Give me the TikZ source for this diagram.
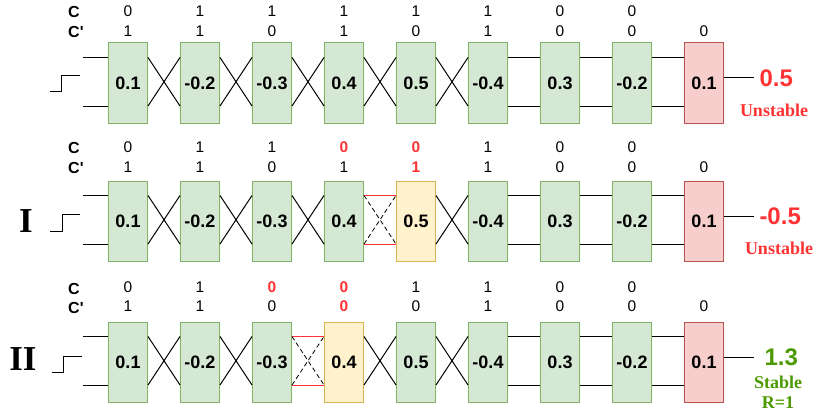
\documentclass[tikz,border=0pt]{standalone}
\usepackage{fontspec}
\setmainfont{Liberation Serif}
\setsansfont{Liberation Sans}
\usetikzlibrary{positioning}

\definecolor{okfill}{HTML}{D5E8D4}
\definecolor{okline}{HTML}{82B366}
\definecolor{swfill}{HTML}{FFF2CC}
\definecolor{swline}{HTML}{D6B656}
\definecolor{endfill}{HTML}{F8CECC}
\definecolor{endline}{HTML}{B85450}
\definecolor{badred}{HTML}{FF3333}
\definecolor{goodgreen}{HTML}{4D9900}

\newcommand\flipbit[1]{\textcolor{badred}{\bfseries #1}}

% wires between two neighbouring cells
\newcommand\xlink[2]{%
  \draw[wire] ([yshift=-15pt]#1.north east) -- ([yshift=17.5pt]#2.south west);
  \draw[wire] ([yshift=17.5pt]#1.south east) -- ([yshift=-15pt]#2.north west);}
\newcommand\hlink[2]{%
  \draw[wire] ([yshift=-15pt]#1.north east) -- ([yshift=-15pt]#2.north west);
  \draw[wire] ([yshift=17.5pt]#1.south east) -- ([yshift=17.5pt]#2.south west);}
\newcommand\cutlink[2]{%
  \draw[cutwire] ([yshift=-15pt]#1.north east) -- ([yshift=-15pt]#2.north west);
  \draw[cutwire] ([yshift=17.5pt]#1.south east) -- ([yshift=17.5pt]#2.south west);
  \draw[ghost] ([yshift=-15pt]#1.north east) -- ([yshift=17.5pt]#2.south west);
  \draw[ghost] ([yshift=17.5pt]#1.south east) -- ([yshift=-15pt]#2.north west);}

\tikzset{
  cell/.style={draw=#1line, fill=#1fill, line width=1pt, minimum width=39pt,
    minimum height=80pt, inner sep=0pt, font=\sffamily\bfseries\fontsize{18}{18}\selectfont},
  cell/.default=ok,
  bit/.style={font=\sffamily\fontsize{15.5}{15.5}\selectfont, inner sep=0pt},
  tag/.style={font=\sffamily\bfseries\fontsize{16}{16}\selectfont, inner sep=0pt, anchor=west},
  wire/.style={line width=1pt},
  cutwire/.style={line width=1pt, draw=badred},
  ghost/.style={line width=0.8pt, dash pattern=on 4.5pt off 3pt},
  score/.style={font=\sffamily\bfseries\fontsize{24}{24}\selectfont, inner sep=0pt, anchor=west},
  verdict/.style={font=\bfseries\fontsize{18}{20}\selectfont, inner sep=0pt, align=center},
  case/.style={font=\bfseries\fontsize{35}{35}\selectfont, inner sep=0pt},
}

\begin{document}
\begin{tikzpicture}[x=1pt, y=-1pt]
  \useasboundingbox (0,0) rectangle (817,412);

  % ---- row a: original chain
  \foreach \val/\kind [count=\i] in {0.1/ok,-0.2/ok,-0.3/ok,0.4/ok,0.5/ok,-0.4/ok,0.3/ok,-0.2/ok,0.1/end}
    \node[cell=\kind] (a\i) at ({128+72*(\i-1)},83) {\val};
  \foreach \up/\lo [count=\i] in {0/1,1/1,1/0,1/1,1/0,1/1,0/0,0/0} {
    \node[bit] (ua\i) at ([yshift=31pt]a\i.north) {\up};
    \node[bit] (la\i) at ([yshift=11pt]a\i.north) {\lo};
  }
  \node[bit] (la9) at ([yshift=11pt]a9.north) {0};
  \node[tag] (ca) at (68,12) {C};
  \node[tag] (cpa) at (68,32) {C\textquotesingle};
  \foreach \i [count=\j from 2] in {1,...,5} \xlink{a\i}{a\j};
  \foreach \i [count=\j from 7] in {6,7,8} \hlink{a\i}{a\j};
  \draw[wire] ([yshift=-15pt]a1.north west) -- ++(-25,0);
  \draw[wire] ([yshift=17.5pt]a1.south west) -- ++(-25,0);
  \draw[wire] (50,92) -| (61,76) -- (80,76);
  \draw[wire] ([yshift=5pt]a9.east) -- ++(30,0) node[score, right=5pt, text=badred] (sa) {0.5};
  \node[verdict, text=badred] (va) at (774,110) {Unstable};

  % ---- row b: swap I
  \foreach \val/\kind [count=\i] in {0.1/ok,-0.2/ok,-0.3/ok,0.4/ok,0.5/sw,-0.4/ok,0.3/ok,-0.2/ok,0.1/end}
    \node[cell=\kind] (b\i) at ({128+72*(\i-1)},221) {\val};
  \foreach \up/\lo [count=\i] in {0/1,1/1,1/0,\flipbit{0}/1,\flipbit{0}/\flipbit{1},1/1,0/0,0/0} {
    \node[bit] (ub\i) at ([yshift=33pt]b\i.north) {\up};
    \node[bit] (lb\i) at ([yshift=13pt]b\i.north) {\lo};
  }
  \node[bit] (lb9) at ([yshift=13pt]b9.north) {0};
  \node[tag] (cb) at (68,148) {C};
  \node[tag] (cpb) at (68,168) {C\textquotesingle};
  \foreach \i [count=\j from 2] in {1,2,3} \xlink{b\i}{b\j};
  \cutlink{b4}{b5}
  \xlink{b5}{b6}
  \foreach \i [count=\j from 7] in {6,7,8} \hlink{b\i}{b\j};
  \draw[wire] ([yshift=-15pt]b1.north west) -- ++(-25,0);
  \draw[wire] ([yshift=17.5pt]b1.south west) -- ++(-25,0);
  \draw[wire] (50,231) -| (62,214) -- (80,214);
  \draw[wire] ([yshift=5pt]b9.east) -- ++(30,0) node[score, right=5pt, text=badred] (sb) {-0.5};
  \node[verdict, text=badred] (vb) at (779,248) {Unstable};
  \node[case] (kb) at (26,221) {I};

  % ---- row c: swap II
  \foreach \val/\kind [count=\i] in {0.1/ok,-0.2/ok,-0.3/ok,0.4/sw,0.5/ok,-0.4/ok,0.3/ok,-0.2/ok,0.1/end}
    \node[cell=\kind] (c\i) at ({128+72*(\i-1)},362) {\val};
  \foreach \up/\lo [count=\i] in {0/1,1/1,\flipbit{0}/0,\flipbit{0}/\flipbit{0},1/0,1/1,0/0,0/0} {
    \node[bit] (uc\i) at ([yshift=34pt]c\i.north) {\up};
    \node[bit] (lc\i) at ([yshift=15pt]c\i.north) {\lo};
  }
  \node[bit] (lc9) at ([yshift=15pt]c9.north) {0};
  \node[tag] (cc) at (68,289) {C};
  \node[tag] (cpc) at (68,308) {C\textquotesingle};
  \foreach \i [count=\j from 2] in {1,2} \xlink{c\i}{c\j};
  \cutlink{c3}{c4}
  \foreach \i [count=\j from 5] in {4,5} \xlink{c\i}{c\j};
  \foreach \i [count=\j from 7] in {6,7,8} \hlink{c\i}{c\j};
  \draw[wire] ([yshift=-15pt]c1.north west) -- ++(-25,0);
  \draw[wire] ([yshift=17.5pt]c1.south west) -- ++(-25,0);
  \draw[wire] (52,372) -| (63,356) -- (82,356);
  \draw[wire] ([yshift=5pt]c9.east) -- ++(30,0) node[score, right=10pt, text=goodgreen] (sc) {1.3};
  \node[verdict, text=goodgreen] (vc) at (778,392) {Stable\\R=1};
  \node[case] (kc) at (23,359) {II};
\end{tikzpicture}
\end{document}
